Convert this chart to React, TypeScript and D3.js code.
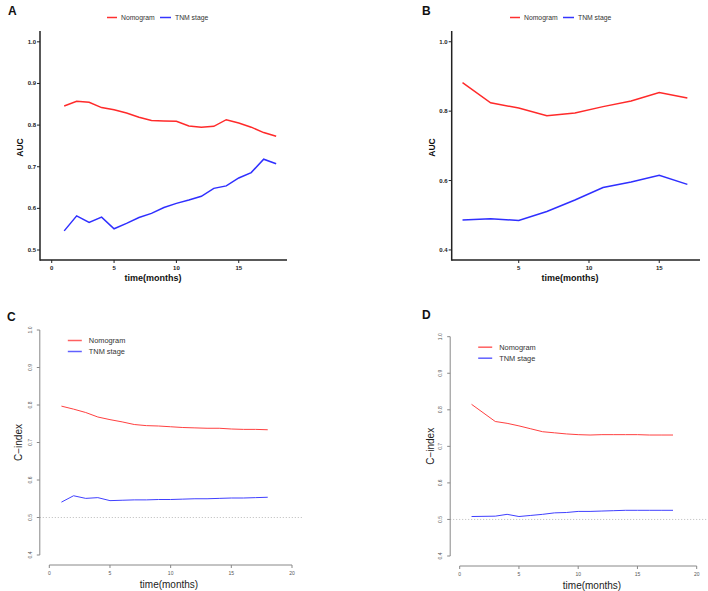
import React from "react";
import * as d3 from "d3";

// ---------- data ----------
const monthsA = [1, 2, 3, 4, 5, 6, 7, 8, 9, 10, 11, 12, 13, 14, 15, 16, 17, 18];
const nomogramA = [0.846, 0.857, 0.855, 0.842, 0.837, 0.829, 0.819, 0.811, 0.810, 0.809, 0.798, 0.795, 0.797, 0.813, 0.805, 0.795, 0.782, 0.773];
const tnmA = [0.546, 0.582, 0.566, 0.579, 0.551, 0.564, 0.578, 0.588, 0.602, 0.612, 0.620, 0.629, 0.648, 0.654, 0.673, 0.686, 0.718, 0.707];

const monthsB = [1, 3, 5, 7, 9, 11, 13, 15, 17];
const nomogramB = [0.882, 0.824, 0.809, 0.787, 0.795, 0.813, 0.829, 0.854, 0.838];
const tnmB = [0.486, 0.490, 0.485, 0.511, 0.544, 0.580, 0.596, 0.615, 0.589];

const monthsC = [1, 2, 3, 4, 5, 6, 7, 8, 9, 10, 11, 12, 13, 14, 15, 16, 17, 18];
const nomogramC = [0.797, 0.789, 0.780, 0.768, 0.761, 0.755, 0.748, 0.745, 0.744, 0.742, 0.740, 0.739, 0.738, 0.738, 0.736, 0.735, 0.735, 0.734];
const tnmC = [0.541, 0.558, 0.551, 0.553, 0.545, 0.546, 0.547, 0.547, 0.548, 0.548, 0.549, 0.550, 0.550, 0.551, 0.552, 0.552, 0.553, 0.554];

const monthsD = [1, 3, 4, 5, 6, 7, 8, 9, 10, 11, 12, 13, 14, 15, 16, 17, 18];
const nomogramD = [0.815, 0.768, 0.763, 0.756, 0.748, 0.740, 0.737, 0.734, 0.732, 0.731, 0.732, 0.732, 0.732, 0.732, 0.731, 0.731, 0.731];
const tnmD = [0.508, 0.509, 0.514, 0.508, 0.511, 0.514, 0.518, 0.519, 0.522, 0.522, 0.523, 0.524, 0.525, 0.525, 0.525, 0.525, 0.525];

const xTicksAB = [0, 5, 10, 15];
const yTicksA = [0.5, 0.6, 0.7, 0.8, 0.9, 1.0];
const yTicksB = [0.4, 0.6, 0.8, 1.0];
const xTicksCD = [0, 5, 10, 15, 20];
const yTicksCD = [0.4, 0.5, 0.6, 0.7, 0.8, 0.9, 1.0];
const seriesNames = ["Nomogram", "TNM stage"];

const FONT = "'Liberation Sans', Arial, Helvetica, sans-serif";

type PrismProps = {
  label: string; labelX: number;
  xDomain: [number, number]; xRange: [number, number];
  yDomain: [number, number]; yRange: [number, number];
  xTicks: number[]; yTicks: number[];
  months: number[]; nom: number[]; tnm: number[];
  legendX: number; titleX: number;
};

function PrismPanel(p: PrismProps) {
  const x = d3.scaleLinear().domain(p.xDomain).range(p.xRange);
  const y = d3.scaleLinear().domain(p.yDomain).range(p.yRange);
  const line = d3.line<number>().x((_, i) => x(p.months[i])).y((d) => y(d));
  const x0 = p.xRange[0], x1 = p.xRange[1];
  const yb = p.yRange[0], yt = p.yRange[1];
  const xt = p.xTicks.filter((t) => x(t) >= x0 - 0.5);
  return (
    <g fontFamily={FONT}>
      <text x={p.labelX} y={15} fontSize={12} fontWeight="bold" fill="#111">{p.label}</text>
      {/* legend */}
      <line x1={p.legendX} x2={p.legendX + 10} y1={17.5} y2={17.5} stroke="#ff3030" strokeWidth={1.5} />
      <text x={p.legendX + 14} y={20} fontSize={6.8} fill="#333">{seriesNames[0]}</text>
      <line x1={p.legendX + 53} x2={p.legendX + 64} y1={17.5} y2={17.5} stroke="#3535ff" strokeWidth={1.5} />
      <text x={p.legendX + 68} y={20} fontSize={6.8} fill="#333">{seriesNames[1]}</text>
      {/* axes */}
      <line x1={x0} x2={x0} y1={yt} y2={yb + 0.75} stroke="#222" strokeWidth={1.5} />
      <line x1={x0} x2={x1} y1={yb} y2={yb} stroke="#222" strokeWidth={1.5} />
      {p.yTicks.map((t) => (
        <g key={"y" + t}>
          <line x1={x0 - 3} x2={x0} y1={y(t)} y2={y(t)} stroke="#222" strokeWidth={1} />
          <text x={x0 - 4} y={y(t) + 2} fontSize={6} fontWeight="bold" textAnchor="end" fill="#222">{t.toFixed(1)}</text>
        </g>
      ))}
      {xt.map((t) => (
        <g key={"x" + t}>
          <line x1={x(t)} x2={x(t)} y1={yb} y2={yb + 3} stroke="#222" strokeWidth={1} />
          <text x={x(t)} y={yb + 10} fontSize={6} fontWeight="bold" textAnchor="middle" fill="#222">{t}</text>
        </g>
      ))}
      <text x={p.titleX} y={281} fontSize={9} fontWeight="bold" textAnchor="middle" fill="#111">time(months)</text>
      <text transform={`translate(${x0 - 17},${(yt + yb) / 2 + 2}) rotate(-90)`} fontSize={8.5} fontWeight="bold" textAnchor="middle" fill="#111">AUC</text>
      <path d={line(p.nom) || ""} fill="none" stroke="#ff2a2a" strokeWidth={1.5} />
      <path d={line(p.tnm) || ""} fill="none" stroke="#2f2fff" strokeWidth={1.5} />
    </g>
  );
}

type RProps = {
  label: string; labelX: number; labelY: number;
  xRange: [number, number]; yRange: [number, number];
  months: number[]; nom: number[]; tnm: number[];
  dotEnd: number; titleX: number; ylabX: number;
};

function RPanel(p: RProps) {
  const x = d3.scaleLinear().domain([0, 20]).range(p.xRange);
  const y = d3.scaleLinear().domain([0.4, 1.0]).range(p.yRange);
  const line = d3.line<number>().x((_, i) => x(p.months[i])).y((d) => y(d));
  const ax = p.xRange[0] - 9.5;
  const axY = p.yRange[0] + 10;
  const lx = p.xRange[0] + 18.5;
  const ly = p.yRange[1] + 10.5;
  return (
    <g fontFamily={FONT}>
      <text x={p.labelX} y={p.labelY} fontSize={12} fontWeight="bold" fill="#111">{p.label}</text>
      <line x1={ax} x2={p.dotEnd} y1={y(0.5)} y2={y(0.5)} stroke="#bbb" strokeWidth={1} strokeDasharray="1,2" />
      {/* y axis */}
      <line x1={ax} x2={ax} y1={p.yRange[1]} y2={p.yRange[0]} stroke="#888" strokeWidth={1} />
      {yTicksCD.map((t) => (
        <g key={"y" + t}>
          <line x1={ax - 3} x2={ax} y1={y(t)} y2={y(t)} stroke="#888" strokeWidth={1} />
          <text transform={`translate(${ax - 8},${y(t)}) rotate(-90)`} fontSize={5} textAnchor="middle" fill="#555">{t.toFixed(1)}</text>
        </g>
      ))}
      {/* x axis */}
      <line x1={p.xRange[0]} x2={p.xRange[1]} y1={axY} y2={axY} stroke="#888" strokeWidth={1} />
      {xTicksCD.map((t) => (
        <g key={"x" + t}>
          <line x1={x(t)} x2={x(t)} y1={axY} y2={axY + 3} stroke="#888" strokeWidth={1} />
          <text x={x(t)} y={axY + 10} fontSize={5} textAnchor="middle" fill="#555">{t}</text>
        </g>
      ))}
      <text x={p.titleX} y={axY + 23} fontSize={10} textAnchor="middle" fill="#222">time(months)</text>
      <text transform={`translate(${p.ylabX},${(p.yRange[0] + p.yRange[1]) / 2}) rotate(-90)`} fontSize={10} textAnchor="middle" fill="#222">C−index</text>
      {/* legend */}
      <line x1={lx} x2={lx + 14} y1={ly} y2={ly} stroke="#ff6060" strokeWidth={1.5} />
      <text x={lx + 21} y={ly + 2.6} fontSize={7.4} fill="#333">{seriesNames[0]}</text>
      <line x1={lx} x2={lx + 14} y1={ly + 11} y2={ly + 11} stroke="#6060ff" strokeWidth={1.5} />
      <text x={lx + 21} y={ly + 13.6} fontSize={7.4} fill="#333">{seriesNames[1]}</text>
      <path d={line(p.nom) || ""} fill="none" stroke="#ff4040" strokeWidth={1} />
      <path d={line(p.tnm) || ""} fill="none" stroke="#4040ff" strokeWidth={1} />
    </g>
  );
}

export default function App() {
  return (
    <svg width={708} height={591} style={{ position: "absolute", left: 0, top: 0, background: "#fff" }}>
      <rect x={0} y={0} width={708} height={591} fill="#fff" />
      <PrismPanel label="A" labelX={8} xDomain={[-0.94, 18.87]} xRange={[40, 287]} yDomain={[0.476, 1.026]} yRange={[260, 31]}
        xTicks={xTicksAB} yTicks={yTicksA} months={monthsA} nom={nomogramA} tnm={tnmA} legendX={107} titleX={153} />
      <PrismPanel label="B" labelX={422} xDomain={[0.23, 17.9]} xRange={[451.7, 700]} yDomain={[0.371, 1.031]} yRange={[260, 31]}
        xTicks={xTicksAB} yTicks={yTicksB} months={monthsB} nom={nomogramB} tnm={tnmB} legendX={510} titleX={570} />
      <RPanel label="C" labelX={7} labelY={320.5} xRange={[49.3, 292]} yRange={[555, 330]} months={monthsC} nom={nomogramC} tnm={tnmC}
        dotEnd={302} titleX={169} ylabX={22} />
      <RPanel label="D" labelX={422} labelY={318.5} xRange={[459.7, 696.7]} yRange={[556, 336.7]} months={monthsD} nom={nomogramD} tnm={tnmD}
        dotEnd={708} titleX={592} ylabX={434} />
    </svg>
  );
}
